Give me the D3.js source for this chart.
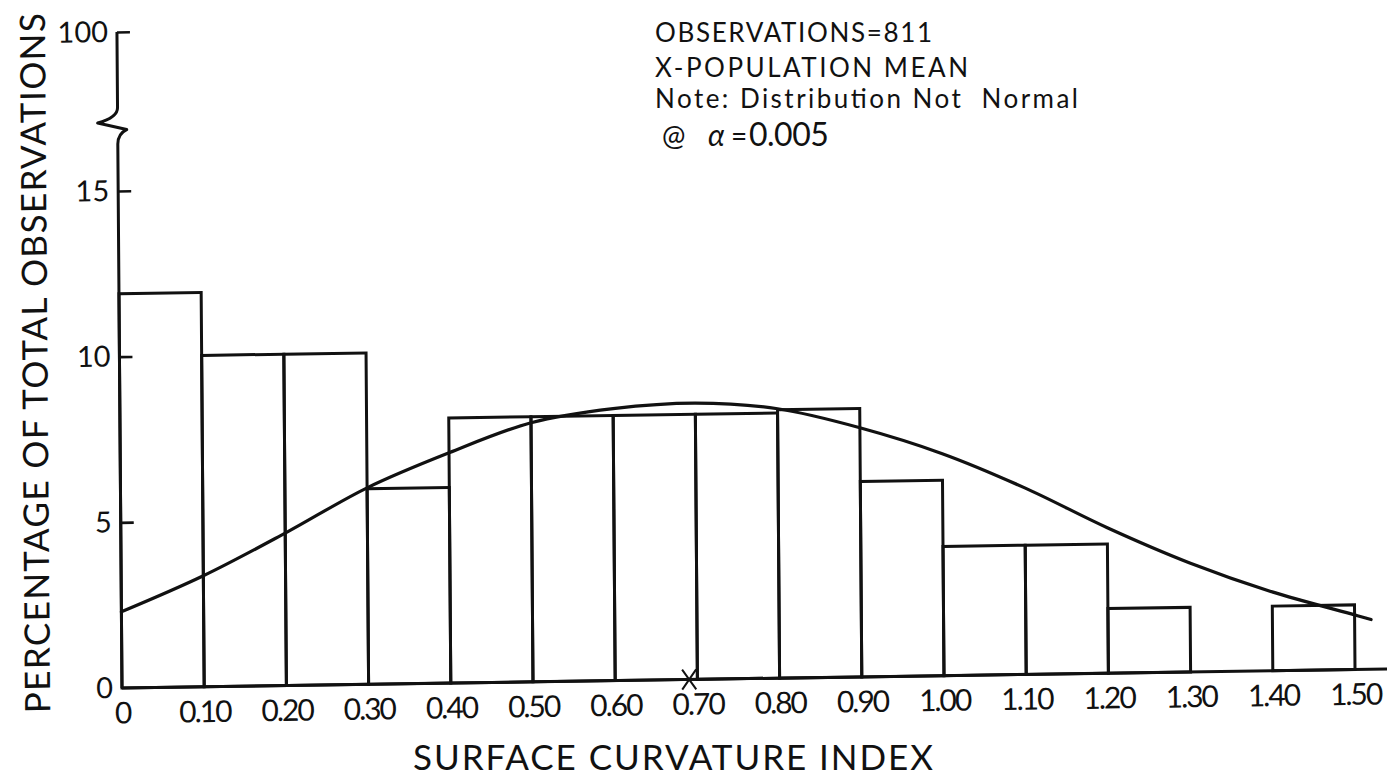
<!DOCTYPE html>
<html>
<head>
<meta charset="utf-8">
<script src="https://cdn.jsdelivr.net/npm/d3@7/dist/d3.min.js"></script>
<style>
  html, body { margin: 0; padding: 0; background: #fff; }
  svg { display: block; }
  text { font-family: Lato, "Open Sans", sans-serif; font-weight: 400; fill: #111; }
</style>
</head>
<body>
<svg id="chart" width="1387" height="783"></svg>
<script>
// ---- data ----
const binStarts = [0, 0.1, 0.2, 0.3, 0.4, 0.5, 0.6, 0.7, 0.8, 0.9, 1.0, 1.1, 1.2, 1.3, 1.4];
const binWidth = 0.1;
const binPercents = [11.9, 10.0, 10.0, 5.9, 8.0, 8.0, 8.0, 8.0, 8.1, 5.9, 3.9, 3.9, 1.95, 0, 1.95];

const curveX = [0, 0.1, 0.2, 0.3, 0.4, 0.5, 0.6, 0.7, 0.8, 0.9, 1.0, 1.1, 1.2, 1.3, 1.4, 1.5, 1.52];
const curveY = [2.3, 3.35, 4.6, 5.93, 6.95, 7.82, 8.21, 8.34, 8.13, 7.52, 6.7, 5.63, 4.39, 3.29, 2.38, 1.65, 1.5];

const populationMean = 0.69;

const xTickValues = [0, 0.1, 0.2, 0.3, 0.4, 0.5, 0.6, 0.7, 0.8, 0.9, 1.0, 1.1, 1.2, 1.3, 1.4, 1.5];
const yTickValues = [0, 5, 10, 15, 100];
const yBreak = [40, 62];  // axis break drawn between these values

const xTitle = "SURFACE CURVATURE INDEX";
const yTitle = "PERCENTAGE OF TOTAL OBSERVATIONS";
const noteLines = ["OBSERVATIONS=811", "X-POPULATION MEAN", "Note: Distribution Not  Normal"];
const alphaText = ["@", "α", "=", "0.005"];

// ---- layout ----
const svg = d3.select("#chart");
const ox = 122, oy = 688;
const x = d3.scaleLinear().domain([0, 1.5]).range([ox, 1355]);
const y = d3.scaleLinear().domain([0, 15, 100]).range([oy, 191, 32]);

// scanned page is slightly skewed; reproduce with a small shear around the origin
const g = svg.append("g")
  .attr("transform", `translate(${ox},${oy}) matrix(1,-0.015,0.0077,1,0,0) translate(${-ox},${-oy})`);

const ink = "#111";

// bars
g.append("g").selectAll("rect")
  .data(binStarts.map((s, i) => ({ s, v: binPercents[i] })).filter(d => d.v > 0))
  .join("rect")
  .attr("x", d => x(d.s))
  .attr("width", d => x(d.s + binWidth) - x(d.s))
  .attr("y", d => y(d.v))
  .attr("height", d => y(0) - y(d.v))
  .attr("fill", "none")
  .attr("stroke", ink)
  .attr("stroke-width", 3);

// fitted curve
const line = d3.line()
  .x(d => x(d[0]))
  .y(d => y(d[1]))
  .curve(d3.curveCatmullRom.alpha(0.5));
g.append("path")
  .datum(curveX.map((v, i) => [v, curveY[i]]))
  .attr("d", line)
  .attr("fill", "none")
  .attr("stroke", ink)
  .attr("stroke-width", 3.2)
  .attr("stroke-linecap", "round");

// x axis line
g.append("line")
  .attr("x1", x(0)).attr("x2", x(1.56))
  .attr("y1", y(0)).attr("y2", y(0))
  .attr("stroke", ink).attr("stroke-width", 3);

// y axis line with break
const bTop = y(yBreak[1]), bBot = y(yBreak[0]);
const ax = x(0);
const bMid = (bTop + bBot) / 2;
g.append("path")
  .attr("d", `M${ax},${y(0)} L${ax},${bBot} ` +
             `Q${ax},${bMid + 10} ${ax + 9},${bMid + 6} ` +
             `L${ax - 20},${bMid - 1} ` +
             `Q${ax},${bMid - 6} ${ax},${bMid - 16} ` +
             `L${ax},${y(100)}`)
  .attr("fill", "none")
  .attr("stroke", ink).attr("stroke-width", 3)
  .attr("stroke-linejoin", "round");

// y axis ticks & labels
const yAxis = d3.axisLeft(y).tickValues(yTickValues).tickSize(-13).tickPadding(9)
  .tickFormat(d3.format("d"));
const yg = g.append("g").attr("transform", `translate(${ax},0)`).call(yAxis);
yg.select(".domain").remove();
yg.selectAll(".tick line").attr("stroke", ink).attr("stroke-width", 2.6)
  .filter(d => d === 0).remove();
yg.selectAll(".tick text").attr("font-size", 29).attr("font-family", "Lato, sans-serif")
  .attr("font-weight", 400).attr("fill", ink);

// x axis labels
const xAxis = d3.axisBottom(x).tickValues(xTickValues).tickSize(0).tickPadding(14)
  .tickFormat(d => d === 0 ? "0" : d3.format(".2f")(d));
const xg = g.append("g").attr("transform", `translate(0,${y(0)})`).call(xAxis);
xg.select(".domain").remove();
xg.selectAll(".tick text").attr("font-size", 30).attr("letter-spacing", -2)
  .attr("font-family", "Lato, sans-serif").attr("font-weight", 400).attr("fill", ink);

// population mean marker
const mx = x(populationMean), my = y(0);
g.append("path")
  .attr("d", `M${mx - 7},${my - 10} L${mx + 7},${my + 10} M${mx + 7},${my - 10} L${mx - 7},${my + 10}`)
  .attr("stroke", ink).attr("stroke-width", 2);

// y title
g.append("text")
  .attr("transform", `translate(50,362) rotate(-90)`)
  .attr("text-anchor", "middle")
  .attr("font-size", 35)
  .attr("textLength", 700)
  .attr("lengthAdjust", "spacing")
  .text(yTitle);

// x title
svg.append("text")
  .attr("x", 673).attr("y", 770)
  .attr("text-anchor", "middle")
  .attr("font-size", 35)
  .attr("textLength", 520)
  .attr("lengthAdjust", "spacing")
  .text(xTitle);

// notes
const noteX = 655;
const noteBase = [42, 77, 108];
const noteLen = [277, 313, 423];
noteLines.forEach((t, i) => {
  svg.append("text")
    .attr("x", noteX).attr("y", noteBase[i])
    .attr("font-size", 26)
    .attr("textLength", noteLen[i])
    .attr("lengthAdjust", "spacing")
    .attr("xml:space", "preserve")
    .text(t);
});
const alphaLine = svg.append("text").attr("y", 146).attr("font-size", 28);
alphaLine.append("tspan").attr("x", 662).text(alphaText[0]);
alphaLine.append("tspan").attr("x", 708).attr("font-style", "italic").attr("font-size", 30).text(alphaText[1]);
alphaLine.append("tspan").attr("x", 731).text(alphaText[2]);
alphaLine.append("tspan").attr("x", 749).attr("font-size", 32).attr("letter-spacing", -0.5).text(alphaText[3]);
</script>
</body>
</html>
